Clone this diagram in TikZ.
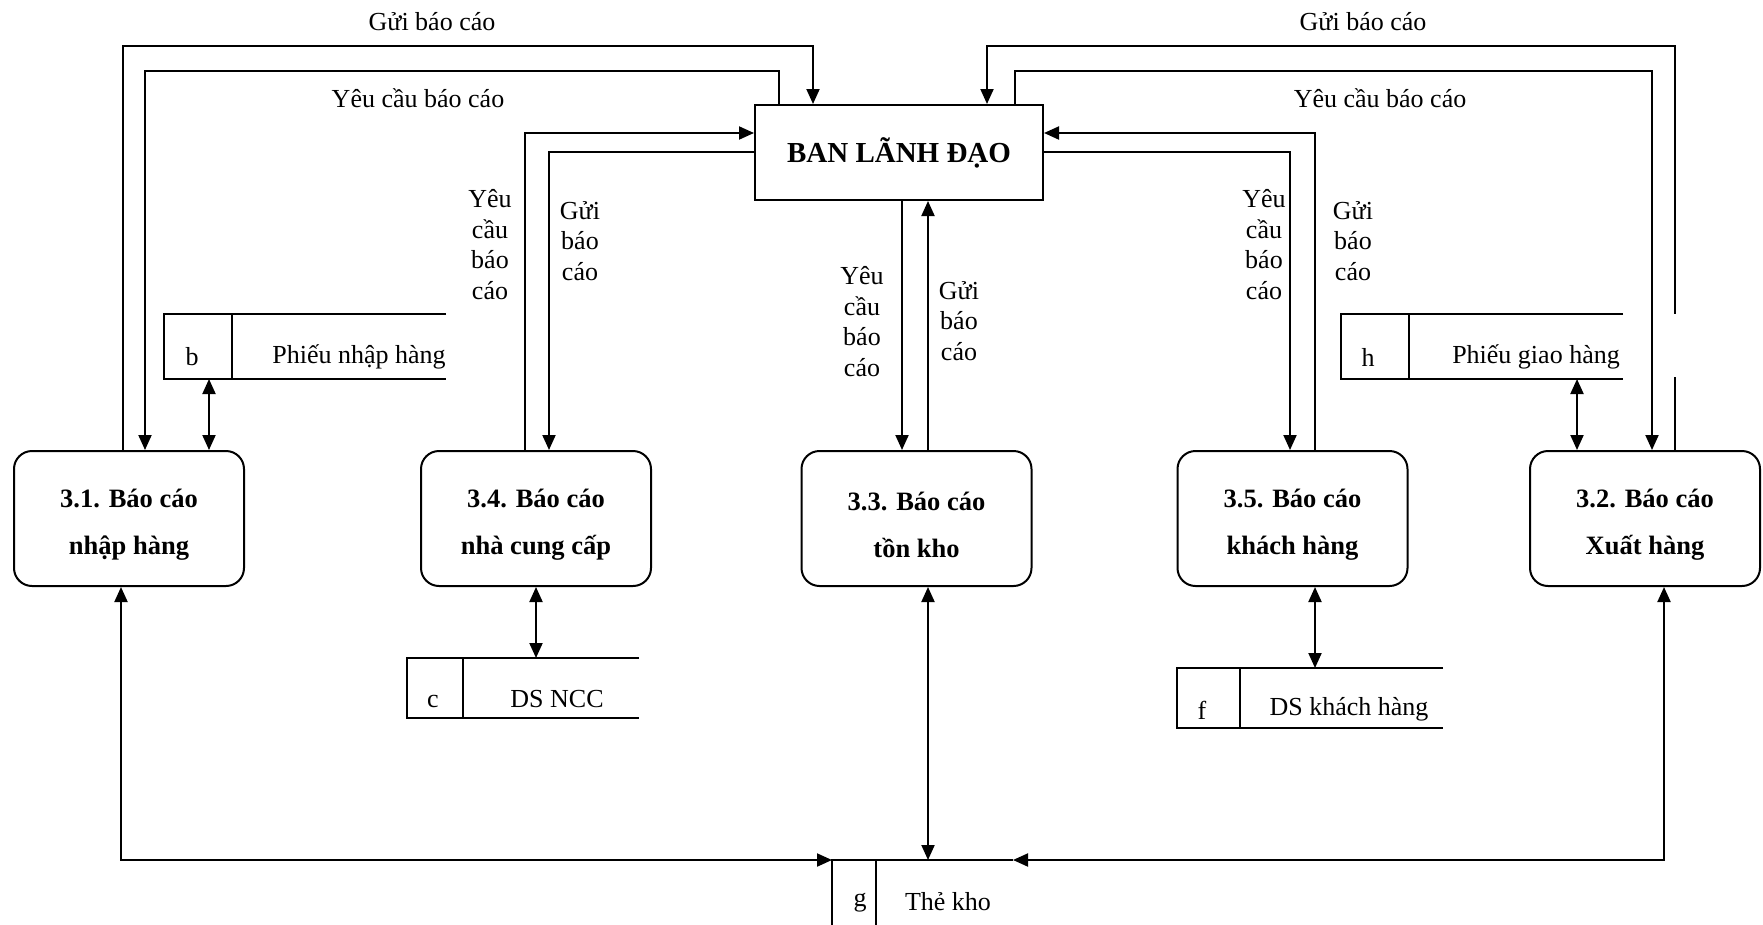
\documentclass[tikz,border=0pt]{standalone}
\usepackage{fontspec}
\setmainfont{Liberation Serif}
\usetikzlibrary{arrows.meta,calc}
\begin{document}
\begin{tikzpicture}[x=1pt,y=-1pt,
  line width=2pt,
  flow/.style={-{Triangle[length=15pt,width=13pt]}},
  dflow/.style={{Triangle[length=15pt,width=13pt]}-{Triangle[length=15pt,width=13pt]}},
  proc/.style={draw, line width=2pt, rounded corners=18pt, minimum width=230pt, minimum height=135pt, inner sep=0pt},
  ptext/.style={font=\fontsize{26.5}{47}\selectfont\bfseries, align=center, inner sep=0pt},
  lbl/.style={font=\fontsize{26}{30.5}\selectfont, align=center, inner sep=0pt},
  stor/.style={inner sep=0pt, outer sep=0pt}
]
\useasboundingbox (0,0) rectangle (1763,924);
\clip (0,0) rectangle (1763,924);

% main entity
\node[draw, line width=2pt, minimum width=288pt, minimum height=95pt, inner sep=0pt,
      font=\fontsize{29}{34}\selectfont\bfseries] (ban) at (899,152.5) {BAN LÃNH ĐẠO};

% processes
\node[proc, label={[ptext,yshift=-6pt]center:{3.1. Báo cáo\\nhập hàng}}] (p31) at (129,518.5) {};
\node[proc, label={[ptext,yshift=-6pt]center:{3.4. Báo cáo\\nhà cung cấp}}] (p34) at (536,518.5) {};
\node[proc, label={[ptext,yshift=-6pt]center:{3.3. Báo cáo\\tồn kho}}] (p33) at (916.5,518.5) {};
\node[proc, label={[ptext,yshift=-6pt]center:{3.5. Báo cáo\\khách hàng}}] (p35) at (1292.5,518.5) {};
\node[proc, label={[ptext,yshift=-6pt]center:{3.2. Báo cáo\\Xuất hàng}}] (p32) at (1645,518.5) {};

% data stores (open right)
\node[stor, minimum width=282pt, minimum height=65pt] (sb) at (305,346.5) {};
\draw (sb.north east) -- (sb.north west) -- (sb.south west) -- (sb.south east);
\draw ([xshift=68pt]sb.north west) -- ([xshift=68pt]sb.south west);
\node[lbl] (sbk) at (192,357) {b};
\node[lbl] (sbn) at (359,357) {Phiếu nhập hàng};

\node[stor, minimum width=232pt, minimum height=60pt] (sc) at (523,688) {};
\draw (sc.north east) -- (sc.north west) -- (sc.south west) -- (sc.south east);
\draw ([xshift=56pt]sc.north west) -- ([xshift=56pt]sc.south west);
\node[lbl] (sck) at (433,701) {c};
\node[lbl] (scn) at (557,699) {DS NCC};

\node[stor, minimum width=266pt, minimum height=60pt] (sf) at (1310,698) {};
\draw (sf.north east) -- (sf.north west) -- (sf.south west) -- (sf.south east);
\draw ([xshift=63pt]sf.north west) -- ([xshift=63pt]sf.south west);
\node[lbl] (sfk) at (1202,710) {f};
\node[lbl] (sfn) at (1349,709) {DS khách hàng};

\node[stor, minimum width=282pt, minimum height=65pt] (sh) at (1482,346.5) {};
\draw (sh.north east) -- (sh.north west) -- (sh.south west) -- (sh.south east);
\draw ([xshift=68pt]sh.north west) -- ([xshift=68pt]sh.south west);
\node[lbl] (shk) at (1368,357) {h};
\node[lbl] (shn) at (1536,357) {Phiếu giao hàng};

\node[stor, minimum width=181pt, minimum height=80pt] (sg) at (922.5,900) {};
\draw (sg.north east) -- (sg.north west) -- (sg.south west);
\draw ([xshift=44pt]sg.north west) -- ([xshift=44pt]sg.south west);
\node[lbl] (sgk) at (860,903) {g};
\node[lbl] (sgn) at (948,902) {Thẻ kho};

% flow labels
\node[lbl] (t1) at (432,22) {Gửi báo cáo};
\node[lbl] (t2) at (418,98) {Yêu cầu báo cáo};
\node[lbl] (t3) at (1363,22) {Gửi báo cáo};
\node[lbl] (t4) at (1380,98) {Yêu cầu báo cáo};
\node[lbl] (t5) at (490,244.5) {Yêu\\cầu\\báo\\cáo};
\node[lbl] (t6) at (580,241) {Gửi\\báo\\cáo};
\node[lbl] (t7) at (862,321.5) {Yêu\\cầu\\báo\\cáo};
\node[lbl] (t8) at (959,321) {Gửi\\báo\\cáo};
\node[lbl] (t9) at (1264,244.5) {Yêu\\cầu\\báo\\cáo};
\node[lbl] (t10) at (1353,241) {Gửi\\báo\\cáo};

% left side flows
\draw[flow] ([xshift=-6pt]p31.north) -- ++(0,-404) -| ([xshift=-86pt]ban.north);
\draw[flow] ([xshift=-120pt]ban.north) -- ++(0,-33) -| ([xshift=16pt]p31.north);
\draw[dflow] ([xshift=80pt]p31.north |- sb.south) -- ([xshift=80pt]p31.north);
\draw[flow] ([xshift=-11pt]p34.north) |- ([yshift=19.5pt]ban.west);
\draw[flow] ([yshift=0.5pt]ban.west) -| ([xshift=13pt]p34.north);
\draw[dflow] (p34.south) -- (p34.south |- sc.north);

% centre flows
\draw[flow] ([xshift=-14.5pt]p33.north |- ban.south) -- ([xshift=-14.5pt]p33.north);
\draw[flow] ([xshift=11.5pt]p33.north) -- ([xshift=11.5pt]p33.north |- ban.south);
\draw[dflow] ([xshift=11.5pt]p33.south) -- ([xshift=11.5pt]p33.south |- sg.north);

% right side flows
\draw[flow] ([xshift=30pt]p32.north) -- ++(0,-404) -| ([xshift=88pt]ban.north);
\fill[white] (1670,314) rectangle (1680,377);
\draw[flow] ([xshift=116pt]ban.north) -- ++(0,-33) -| ([xshift=7pt]p32.north);
\draw[dflow] ([xshift=-68pt]p32.north |- sh.south) -- ([xshift=-68pt]p32.north);
\draw[flow] ([xshift=22.5pt]p35.north) |- ([yshift=19.5pt]ban.east);
\draw[flow] ([yshift=0.5pt]ban.east) -| ([xshift=-2.5pt]p35.north);
\draw[dflow] ([xshift=22.5pt]p35.south) -- ([xshift=22.5pt]p35.south |- sf.north);

% bottom flows to stock card
\draw[dflow] ([xshift=-8pt]p31.south) |- (sg.north west);
\draw[dflow] ([xshift=19pt]p32.south) |- (sg.north east);
\end{tikzpicture}
\end{document}
